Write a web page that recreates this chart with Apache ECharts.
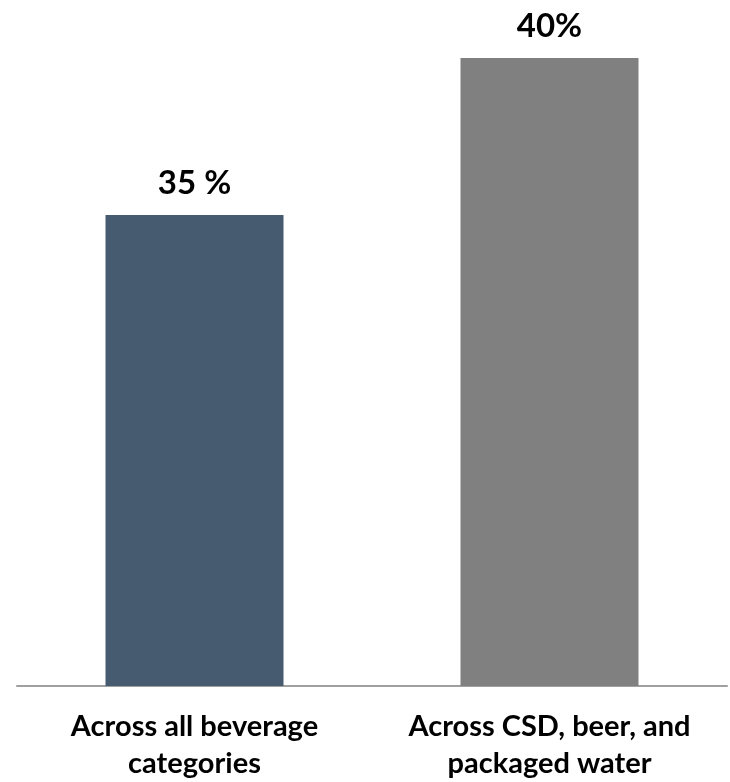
<!DOCTYPE html>
<html>
<head>
<meta charset="utf-8">
<script src="https://cdn.jsdelivr.net/npm/echarts@6/dist/echarts.min.js"></script>
<style>html,body{margin:0;padding:0;background:#fff}#c{width:730px;height:782px}</style>
</head>
<body>
<div id="c"></div>
<script>
var categories = ['Across all beverage\ncategories', 'Across CSD, beer, and\npackaged water'];
var values = [35, 40];
var valueLabels = ['35 %', '40%'];
var barColors = ['#465b6f', '#808080'];

var chart = echarts.init(document.getElementById('c'), null, {renderer: 'canvas'});
chart.setOption({
  animation: false,
  grid: {left: 17, right: 3, top: 58, bottom: 96, containLabel: false},
  xAxis: {
    type: 'category',
    data: categories,
    axisTick: {show: false},
    axisLine: {show: true, lineStyle: {color: '#a0a0a0', width: 2}},
    axisLabel: {
      interval: 0,
      margin: 22,
      color: '#000',
      fontFamily: 'Lato',
      fontWeight: 'bold',
      fontSize: 29,
      lineHeight: 37
    }
  },
  yAxis: {
    type: 'value',
    min: 20,
    max: 40,
    show: false,
    splitLine: {show: false}
  },
  series: [{
    type: 'bar',
    barWidth: 178,
    data: values.map(function (v, i) {
      return {value: v, itemStyle: {color: barColors[i]}};
    }),
    label: {
      show: true,
      position: 'top',
      distance: 15,
      color: '#000',
      fontFamily: 'Lato',
      fontWeight: 'bold',
      fontSize: 33,
      formatter: function (p) { return valueLabels[p.dataIndex]; }
    }
  }]
});
</script>
</body>
</html>
